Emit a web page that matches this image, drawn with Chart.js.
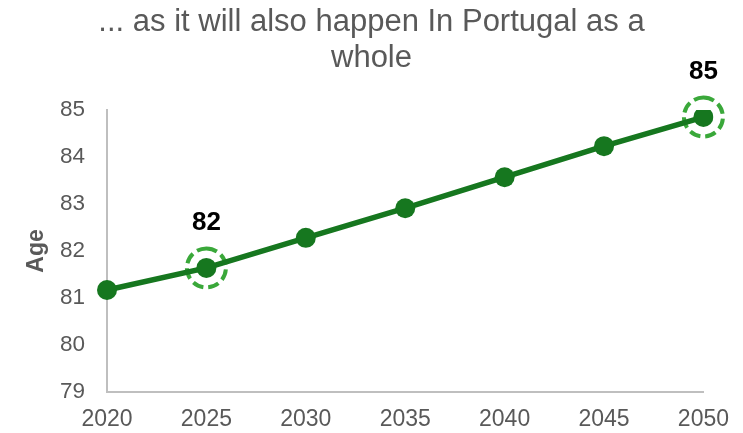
<!DOCTYPE html>
<html>
<head>
<meta charset="utf-8">
<script src="https://cdn.jsdelivr.net/npm/chart.js@4/dist/chart.umd.min.js"></script>
<style>
html,body{margin:0;padding:0;background:#fff;}
#wrap{width:743px;height:433px;position:relative;}
canvas{display:block;}
</style>
</head>
<body>
<div id="wrap"><canvas id="c"></canvas></div>
<script>
const years = ['2020','2025','2030','2035','2040','2045','2050'];
const ages = [81.17, 81.64, 82.28, 82.91, 83.57, 84.23, 84.85];
const highlighted = [1, 6];
const highlightLabels = ['82', '85'];
const titleLines = ['... as it will also happen In Portugal as a', 'whole'];
const yTitle = 'Age';

const FONT = "'Liberation Sans', Arial, sans-serif";

const highlightPlugin = {
  id: 'highlight',
  beforeDatasetsDraw(chart) {
    const ctx = chart.ctx;
    const meta = chart.getDatasetMeta(0);
    ctx.save();
    ctx.strokeStyle = '#3aa83a';
    ctx.lineWidth = 4;
    ctx.setLineDash([11, 5]);
    highlighted.forEach(i => {
      const p = meta.data[i];
      ctx.beginPath();
      ctx.arc(p.x, p.y, 19.5, -Math.PI / 2, Math.PI * 1.5);
      ctx.stroke();
    });
    ctx.restore();
  },
  afterDatasetsDraw(chart) {
    const ctx = chart.ctx;
    const meta = chart.getDatasetMeta(0);
    ctx.save();
    ctx.fillStyle = '#000';
    ctx.font = 'bold 26px ' + FONT;
    ctx.textAlign = 'center';
    ctx.textBaseline = 'middle';
    highlighted.forEach((i, k) => {
      const p = meta.data[i];
      ctx.fillText(highlightLabels[k], p.x, p.y - 45);
    });
    ctx.restore();
  }
};

new Chart(document.getElementById('c'), {
  type: 'line',
  data: {
    labels: years,
    datasets: [{
      data: ages,
      borderColor: '#16771f',
      backgroundColor: '#16771f',
      borderWidth: 5.5,
      pointRadius: 10,
      pointHoverRadius: 10,
      pointBackgroundColor: '#16771f',
      pointBorderWidth: 0,
      tension: 0
    }]
  },
  options: {
    responsive: true,
    maintainAspectRatio: false,
    animation: false,
    layout: { padding: 0 },
    plugins: {
      legend: { display: false },
      tooltip: { enabled: false },
      title: {
        display: true,
        text: titleLines,
        color: '#595959',
        font: { family: FONT, size: 31, weight: 'normal', lineHeight: '36px' },
        padding: { top: 4, bottom: 34 }
      }
    },
    scales: {
      x: {
        type: 'category',
        offset: false,
        afterFit(scale) { scale.height = 41; },
        grid: { display: false, drawTicks: false },
        border: { display: true, color: '#bfbfbf', width: 2 },
        ticks: { color: '#595959', font: { family: FONT, size: 23 }, padding: 14, maxRotation: 0, minRotation: 0, autoSkip: false }
      },
      y: {
        min: 79,
        max: 85,
        afterFit(scale) { scale.width = 107; },
        grid: { display: false, drawTicks: false },
        border: { display: true, color: '#bfbfbf', width: 2 },
        ticks: { stepSize: 1, color: '#595959', font: { family: FONT, size: 22.5 }, padding: 22 },
        title: {
          display: true,
          text: yTitle,
          color: '#595959',
          font: { family: FONT, size: 23, weight: 'bold' },
          padding: { top: 23, bottom: 0 }
        }
      },
      spacer: {
        type: 'linear',
        position: 'right',
        display: true,
        afterFit(scale) { scale.width = 36; },
        grid: { display: false, drawTicks: false },
        border: { display: false },
        ticks: { display: false }
      }
    }
  },
  plugins: [highlightPlugin]
});
</script>
</body>
</html>
